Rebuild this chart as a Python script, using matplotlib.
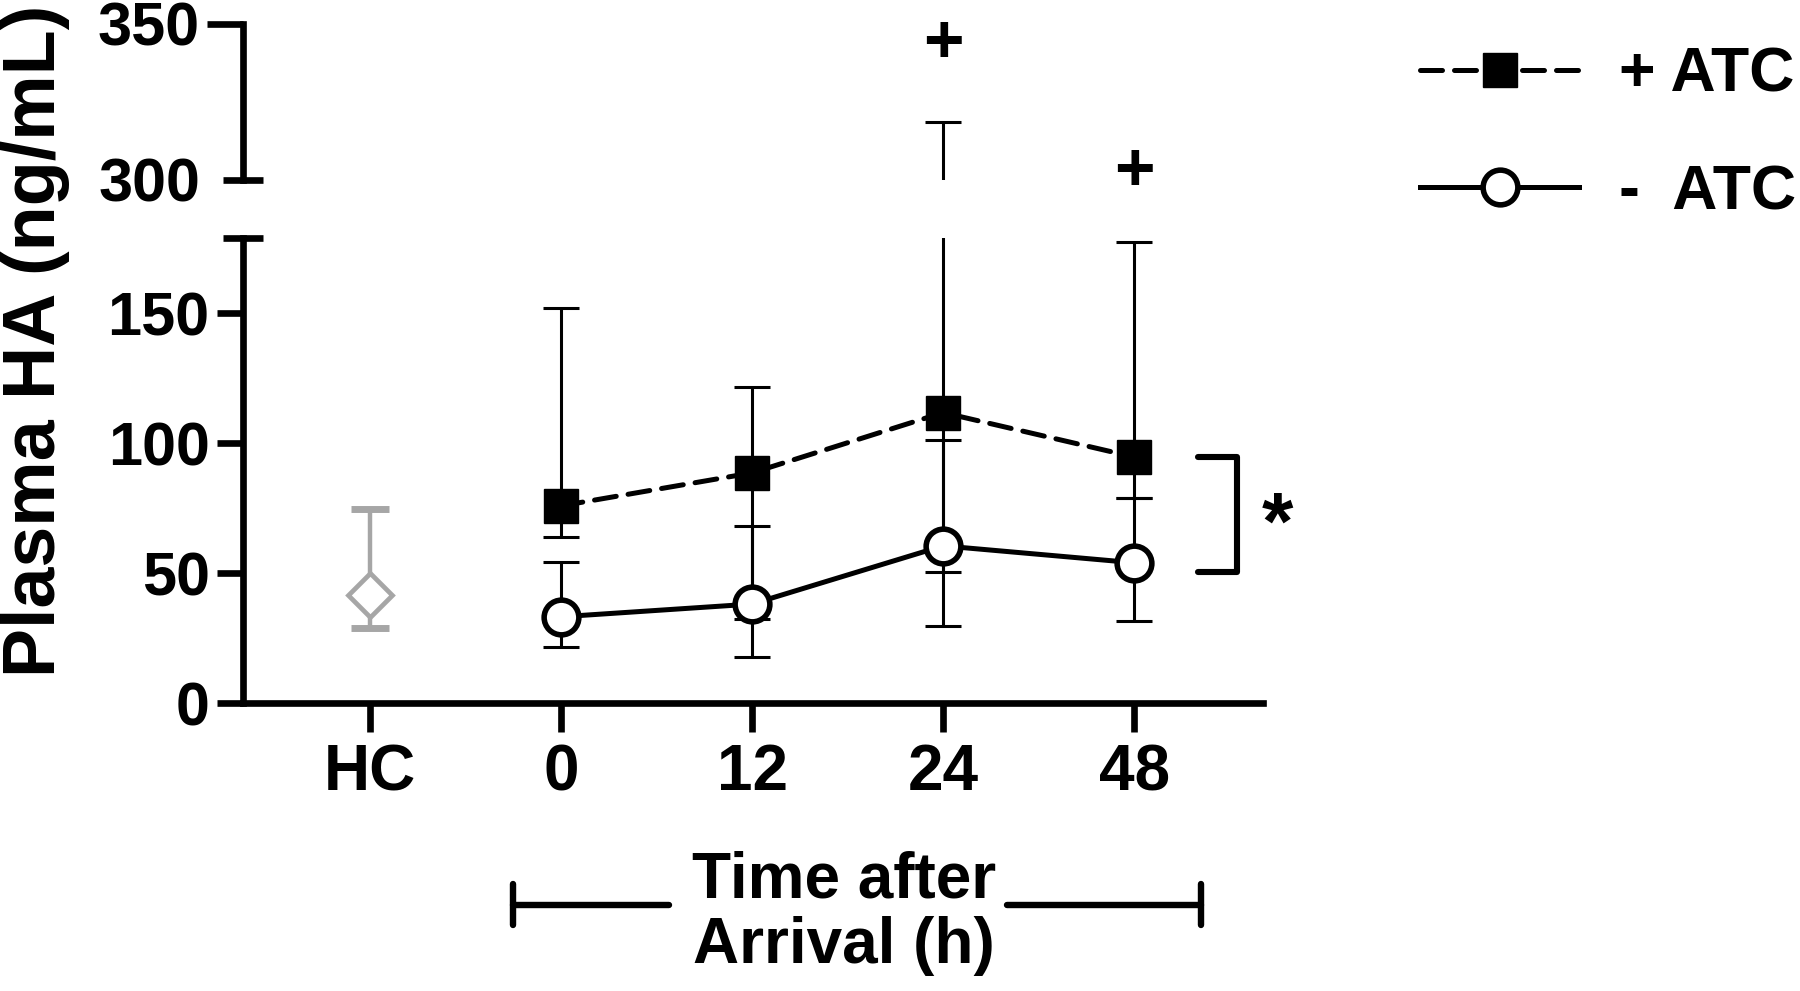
#!/usr/bin/env python3

import numpy as np
import matplotlib
matplotlib.use('Agg')
import matplotlib.pyplot as plt
import matplotlib.transforms as mtransforms

plt.rcParams['font.family'] = ['Liberation Sans', 'DejaVu Sans']
plt.rcParams['font.weight'] = 'bold'

# categories on the x axis
categories = ['HC', '0', '12', '24', '48']
time_pos = [1, 2, 3, 4]

# healthy controls
hc_mean = 41.5
hc_low = 28.7
hc_high = 74.5

# + ATC group (mean, lower and upper end of the bars)
atc_pos_mean = [75.9, 88.6, 111.8, 94.7]
atc_pos_low = [64.0, 32.2, 50.5, 79.0]
atc_pos_high = [152.0, 121.7, 318.6, 177.5]

# - ATC group
atc_neg_mean = [33.2, 38.1, 60.5, 54.0]
atc_neg_low = [21.7, 17.8, 29.7, 31.4]
atc_neg_high = [54.2, 68.1, 101.2, 79.0]

# significance marks
plus_pos = [3, 4]
plus_y = [343.5, 302.5]

grey = '#a6a6a6'
LW_AX = 4.8
LW_LINE = 3.6
LW_ERR = 2.2
FS = 46


def draw_series(ax):
	# error bars first so the markers sit on top
	yerr_p = [np.array(atc_pos_mean) - np.array(atc_pos_low),
		np.array(atc_pos_high) - np.array(atc_pos_mean)]
	yerr_n = [np.array(atc_neg_mean) - np.array(atc_neg_low),
		np.array(atc_neg_high) - np.array(atc_neg_mean)]
	ax.errorbar(time_pos, atc_pos_mean, yerr=yerr_p, fmt='none', ecolor='black',
		elinewidth=LW_ERR, capsize=13, capthick=LW_ERR, zorder=2)
	ax.errorbar(time_pos, atc_neg_mean, yerr=yerr_n, fmt='none', ecolor='black',
		elinewidth=LW_ERR, capsize=13, capthick=LW_ERR, zorder=2)
	ax.errorbar([0], [hc_mean], yerr=[[hc_mean - hc_low], [hc_high - hc_mean]],
		fmt='none', ecolor=grey, elinewidth=3.2, capsize=14, capthick=5, zorder=2)
	p, = ax.plot(time_pos, atc_pos_mean, color='black', lw=LW_LINE,
		dashes=(4.4, 2.4), dash_capstyle='round', marker='s', ms=24,
		mfc='black', mec='black', zorder=4, label='+ ATC')
	n, = ax.plot(time_pos, atc_neg_mean, color='black', lw=LW_LINE,
		marker='o', ms=25, mfc='white', mec='black', mew=4.0, zorder=5,
		label='-  ATC')
	ax.plot([0], [hc_mean], linestyle='none', marker='D', ms=22, mfc='white',
		mec=grey, mew=3.4, zorder=3)
	return p, n


def main():
	fig = plt.figure(figsize=(18, 9.91), dpi=100)
	ax = fig.add_axes([0.135, 0.2906, 0.5667, 0.4692])
	ax_top = fig.add_axes([0.135, 0.8184, 0.5667, 0.1574])

	for a in (ax, ax_top):
		a.set_xlim(-0.665, 4.675)
		for s in ('top', 'right'):
			a.spines[s].set_visible(False)
		a.spines['left'].set_linewidth(LW_AX)
		a.spines['bottom'].set_linewidth(LW_AX)
		a.tick_params(axis='both', width=LW_AX, length=19, labelsize=FS - 2,
			pad=5)

	p, n = draw_series(ax)
	draw_series(ax_top)

	# lower part of the broken axis
	ax.set_ylim(0, 179)
	ax.set_yticks([0, 50, 100, 150, 179])
	ax.set_yticklabels(['0', '50', '100', '150', ''])
	ax.set_xticks(range(len(categories)))
	ax.set_xticklabels(categories, fontsize=FS)
	ax.tick_params(axis='x', length=21, pad=8)
	brk = ax.yaxis.get_major_ticks()[-1]
	brk.tick1line.set_marker('_')
	brk.tick1line.set_markersize(29)

	# upper part of the broken axis
	ax_top.set_ylim(300, 350)
	ax_top.set_yticks([300, 350])
	ax_top.spines['bottom'].set_visible(False)
	ax_top.set_xticks([])
	ax_top.tick_params(axis='y', length=26)
	brk = ax_top.yaxis.get_major_ticks()[0]
	brk.tick1line.set_marker('_')
	brk.tick1line.set_markersize(29)

	for x, y in zip(plus_pos, plus_y):
		ax_top.text(x, y, '+', fontsize=50, ha='center', va='center',
			clip_on=False)

	# bracket and star between the two groups
	ax.plot([4.335, 4.539, 4.539, 4.335], [94.6, 94.6, 50.4, 50.4], color='black',
		lw=4.4, solid_capstyle='round', clip_on=False)
	ax.text(4.75, 67.5, '*', fontsize=58, ha='center', va='center',
		clip_on=False)

	# x axis title with its range bar
	trans = mtransforms.blended_transform_factory(ax.transData, ax.transAxes)
	kw = dict(color='black', lw=4.6, solid_capstyle='round', clip_on=False,
		transform=trans)
	ax.plot([0.749, 1.565], [-0.434, -0.434], **kw)
	ax.plot([3.335, 4.35], [-0.434, -0.434], **kw)
	ax.plot([0.749, 0.749], [-0.389, -0.477], **kw)
	ax.plot([4.35, 4.35], [-0.389, -0.477], **kw)
	ax.text(2.48, -0.452, 'Time after\nArrival (h)', transform=trans,
		fontsize=FS, ha='center', va='center', linespacing=1.13)

	fig.text(0.02, 0.656, 'Plasma HA (ng/mL)', rotation=90, fontsize=53,
		ha='center', va='center')

	ax.legend(handles=[p, n], loc='upper left', frameon=False,
		bbox_to_anchor=(1420 / 1800, 1 - 46 / 991), bbox_transform=fig.transFigure,
		fontsize=FS - 1, handlelength=2.55, handletextpad=0.64, labelspacing=0.93,
		borderaxespad=0, borderpad=0, numpoints=1)

	fig.savefig('out.png', dpi=100)


if __name__ == '__main__':
	main()
